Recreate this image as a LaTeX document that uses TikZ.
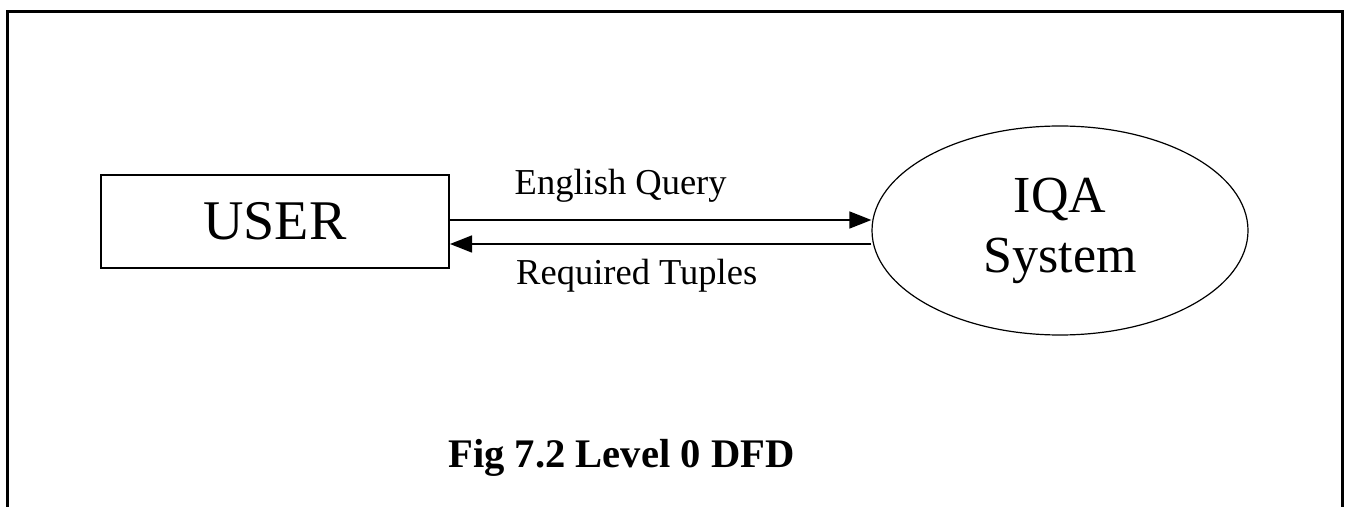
\documentclass[tikz,border=0pt]{standalone}
\usepackage{fontspec}
\setmainfont{Liberation Serif}
\usetikzlibrary{arrows.meta,shapes.geometric}

\tikzset{
  entity/.style={draw,line width=1pt,minimum width=174pt,minimum height=46.5pt,inner sep=0pt,font=\fontsize{28}{30}\selectfont},
  process/.style={draw,ellipse,line width=0.6pt,minimum width=188pt,minimum height=104.5pt,inner sep=0pt,align=center,font=\fontsize{26}{30}\selectfont},
  flow/.style={-{Triangle[length=11pt,width=8.5pt]},line width=0.75pt,font=\fontsize{18.25}{20}\selectfont}
}

\begin{document}
\begin{tikzpicture}[x=0.5pt,y=-0.5pt]
\useasboundingbox (0,0) rectangle (1353,507);
% frame
\draw[line width=1.5pt] (7,507) -- (7,12) -- (1342,12) -- (1342,507);

% external entity and process
\node[entity] (user) at (275,221.5) {USER};
\node[process] (iqa) at (1060,230.5) {IQA\\System};

% data flows
\path[flow]
([yshift=0.75pt]user.east) edge node[pos=0.405,anchor=base,yshift=12.5pt]{English Query} ([yshift=5.25pt]iqa.west)
([yshift=-6.75pt]iqa.west) edge node[pos=0.557,anchor=base,yshift=-20.5pt]{Required Tuples} ([yshift=-11.25pt]user.east);

% caption
\node[anchor=base,font=\fontsize{20.3}{22}\selectfont\bfseries] (cap) at (621.5,467) {Fig 7.2 Level 0 DFD};

\end{tikzpicture}
\end{document}
